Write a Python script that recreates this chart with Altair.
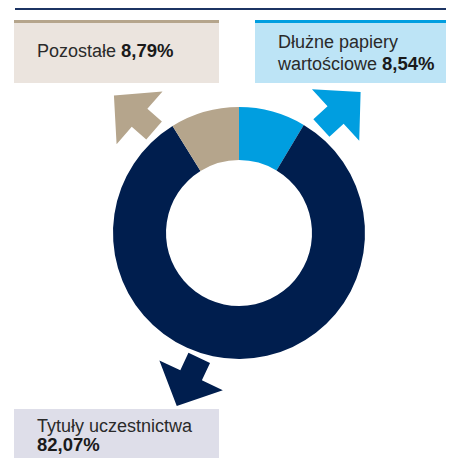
import altair as alt
import pandas as pd

# ---- data ----
categories = ["Dłużne papiery wartościowe", "Tytuły uczestnictwa", "Pozostałe"]
values = [8.54, 82.07, 8.79]
pct_labels = ["8,54%", "82,07%", "8,79%"]
colors = ["#009ee0", "#001e4e", "#b5a58c"]

# ---- layout (chart pixel coordinates) ----
W, H = 438, 450
CX, CY = 231, 225
R_OUT, R_IN = 126, 73
FONT = "Liberation Sans"
FS = 18
FSB = 18.5

df = pd.DataFrame({"category": categories, "value": values, "order": [0, 1, 2]})
one = alt.Data(values=[{}])

donut = alt.Chart(df).mark_arc(radius=R_OUT, radius2=R_IN, strokeWidth=0).encode(
    theta=alt.Theta("value:Q", stack=True),
    order=alt.Order("order:Q"),
    color=alt.Color("category:N", scale=alt.Scale(domain=categories, range=colors), legend=None),
    x=alt.value(CX),
    y=alt.value(CY),
)


def rect(x1, x2, y1, y2, fill):
    return alt.Chart(one).mark_rect(color=fill, strokeWidth=0).encode(
        x=alt.value(x1), x2=alt.value(x2), y=alt.value(y1), y2=alt.value(y2)
    )


top_line = alt.Chart(one).mark_rule(color="#1c3463", strokeWidth=2).encode(
    x=alt.value(7), x2=alt.value(W), y=alt.value(1)
)

boxes = [
    rect(6, 211, 12, 75, "#ebe4de"),
    rect(6, 211, 12, 15, "#b5a58c"),
    rect(247, W, 12, 75, "#bde4f6"),
    rect(247, W, 12, 15, "#009ee0"),
    rect(6, 211, 401, H, "#dedee9"),
]

# arrows
arrow_path = "M0,-0.76 L1,0.21 L0.34,0.21 L0.34,0.76 L-0.34,0.76 L-0.34,0.21 L-1,0.21 Z"
arrows_df = pd.DataFrame({
    "category": categories,
    "px": [333, 180, 126],
    "py": [102, 374, 105],
    "ang": [47.5, 205, 311],
})
arrows = alt.Chart(arrows_df).mark_point(
    shape=arrow_path, filled=True, size=4900, opacity=1, strokeWidth=0
).encode(
    x=alt.X("px:Q", scale=None),
    y=alt.Y("py:Q", scale=None),
    angle=alt.Angle("ang:Q", scale=None),
    color=alt.Color("category:N", scale=alt.Scale(domain=categories, range=colors), legend=None),
)

# texts
reg_df = pd.DataFrame({
    "t": ["Pozostałe", "Dłużne papiery", "wartościowe", "Tytuły uczestnictwa"],
    "px": [29, 270, 270, 29],
    "py": [49, 40, 62, 424],
})
bold_df = pd.DataFrame({
    "t": [pct_labels[2], pct_labels[0], pct_labels[1]],
    "px": [113, 374, 29],
    "py": [49, 62, 443],
})

reg_text = alt.Chart(reg_df).mark_text(
    font=FONT, fontSize=FS, align="left", baseline="alphabetic", color="#2a2a2a"
).encode(x=alt.X("px:Q", scale=None), y=alt.Y("py:Q", scale=None), text="t:N")

bold_text = alt.Chart(bold_df).mark_text(
    font=FONT, fontSize=FSB, fontWeight="bold", align="left", baseline="alphabetic", color="#1a1a1a"
).encode(x=alt.X("px:Q", scale=None), y=alt.Y("py:Q", scale=None), text="t:N")

chart = alt.layer(top_line, *boxes, donut, arrows, reg_text, bold_text).properties(
    width=W, height=H, padding=0, autosize=alt.AutoSizeParams(type="none")
).configure_view(stroke=None)

chart.save("out.html", embed_options={"renderer": "svg", "actions": False})
